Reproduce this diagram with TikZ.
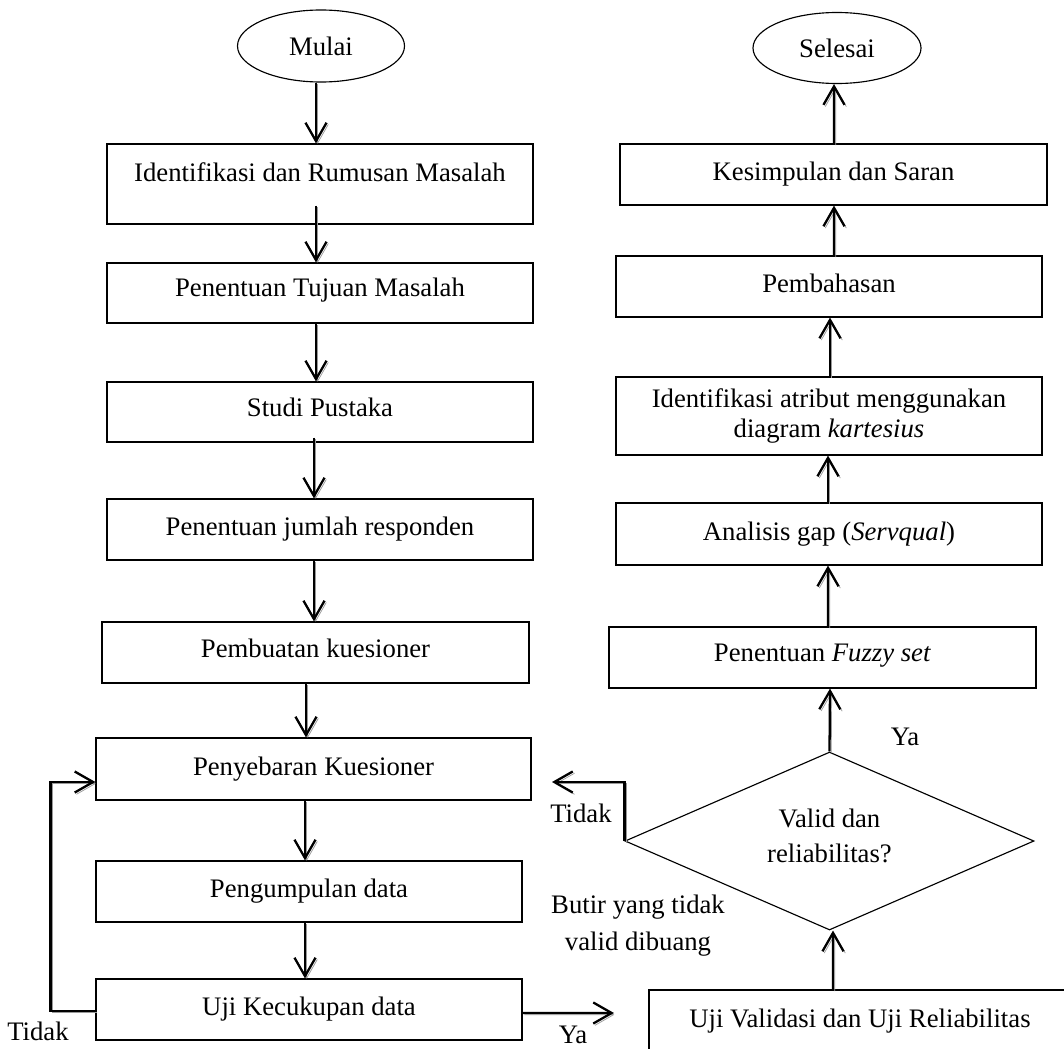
\documentclass[tikz,border=0pt]{standalone}
\usepackage{fontspec}
\setmainfont{Liberation Serif}
\usetikzlibrary{shapes.geometric,arrows.meta,calc}
\newcommand{\liftt}[2]{\raisebox{#1}[\height][\depth]{#2}}
\begin{document}
\begin{tikzpicture}[x=0.02cm,y=-0.02cm,
  every node/.style={font=\fontsize{15.2}{17}\selectfont},
  box/.style={draw, line width=0.65pt, rectangle, inner sep=0pt},
  oval/.style={draw, ellipse, line width=0.65pt, inner sep=0pt},
  sz/.style 2 args={minimum width=#1*0.02cm, minimum height=#2*0.02cm},
  arr/.style={line width=1.3pt, -{Straight Barb[length=10.5pt,width=12pt,line width=1.3pt]},
    preaction={draw=black!40, transform canvas={shift={(1pt,-1pt)}}}},
  lbl/.style={inner sep=0pt}]
\useasboundingbox (0,0) rectangle (1064,1048);
\fill[white] (0,0) rectangle (1064,1048);
\clip (0,0) rectangle (1064,1048);

% left column
\node[oval, sz={167}{72}] (mulai) at (321,46) {Mulai};
\node[box, sz={426}{80}] (idr) at (320,184) {\liftt{6.8pt}{Identifikasi dan Rumusan Masalah}};
\node[box, sz={426}{60}] (ptm) at (320,293) {\liftt{1.6pt}{Penentuan Tujuan Masalah}};
\node[box, sz={426}{60}] (sp) at (320,412) {\liftt{2.8pt}{Studi Pustaka}};
\node[box, sz={426}{61}] (pjr) at (320,529.5) {Penentuan jumlah responden};
\node[box, sz={427}{61}] (pk) at (315.5,652.5) {\liftt{2.5pt}{Pembuatan kuesioner}};
\node[box, sz={435}{62}] (pyk) at (313.5,769) {Penyebaran Kuesioner};
\node[box, sz={426}{61}] (pd) at (309,891.5) {\liftt{0.5pt}{Pengumpulan data}};
\node[box, sz={426}{61}] (ukd) at (309,1009.5) {Uji Kecukupan data};

% right column
\node[oval, sz={168}{71}] (sel) at (837,48) {Selesai};
\node[box, sz={427}{61}] (ks) at (833.5,174.5) {Kesimpulan dan Saran};
\node[box, sz={426}{61}] (pb) at (829,286.5) {\liftt{2pt}{Pembahasan}};
\node[box, sz={426}{78}, align=center] (ia) at (829,416) {Identifikasi atribut menggunakan\\diagram \textit{kartesius}};
\node[box, sz={426}{62}] (ag) at (829,534) {Analisis gap (\textit{Servqual})};
\node[box, sz={427}{61}] (fz) at (822.5,657.5) {\liftt{1pt}{Penentuan \textit{Fuzzy set}}};
\node[draw, diamond, line width=0.65pt, inner sep=0pt, sz={409}{178}, shape aspect=2.3,
      align=center, text depth=6pt] (dm) at (829.5,841) {Valid dan\\[2.8pt]reliabilitas?};
\node[box, sz={422}{80}] (uv) at (860,1030) {\liftt{5.3pt}{Uji Validasi dan Uji Reliabilitas}};

% labels
\node[lbl] (tidak1) at (38,1031) {Tidak};
\node[lbl] (ya1) at (573,1035) {Ya};
\node[lbl] (tidak2) at (581,813) {Tidak};
\node[lbl] (ya2) at (905,737) {Ya};
\node[lbl, align=center] (butir) at (638,926) {Butir yang tidak\\[4pt]valid dibuang};

% left arrows
\draw[arr] ($(mulai.south)+(-5,0)$) -- ($(idr.north)+(-4,0)$);
\draw[arr] ($(idr.south)+(-4,-19)$) -- ($(ptm.north)+(-4,0)$);
\draw[arr] ($(ptm.south)+(-4,0)$) -- ($(sp.north)+(-4,0)$);
\draw[arr] ($(sp.south)+(-6,-5)$) -- ($(pjr.north)+(-6,0)$);
\draw[arr] ($(pjr.south)+(-6,0)$) -- ($(pk.north)+(-1.5,0)$);
\draw[arr] ($(pk.south)+(-9.5,0)$) -- ($(pyk.north)+(-7.5,0)$);
\draw[arr] ($(pyk.south)+(-8.5,0)$) -- ($(pd.north)+(-4,0)$);
\draw[arr] ($(pd.south)+(-4,0)$) -- ($(ukd.north)+(-4,0)$);

% right arrows
\draw[arr] ($(fz.north)+(5.5,0)$) -- ($(ag.south)+(-1,0)$);
\draw[arr] ($(ag.north)+(-1,0)$) -- ($(ia.south)+(-1,0)$);
\draw[arr] ($(ia.north)+(1,0)$) -- ($(pb.south)+(1,0)$);
\draw[arr] ($(pb.north)+(5,0)$) -- ($(ks.south)+(0.5,0)$);
\draw[arr] ($(ks.north)+(0.5,0)$) -- ($(sel.south)+(-3,0)$);
\draw[arr] (dm.north) -- ($(fz.south)+(7.5,0)$);
\draw[arr] ($(uv.north)+(-27,0)$) -- ($(dm.south)+(3.5,0)$);

% loops
\coordinate (t2end) at (552,782);
\draw[arr] (dm.west) -- ++(0,-59) -- (t2end);
\draw[arr] ($(ukd.west)+(0,1.5)$) -- ++(-45,0) |- ($(pyk.west)+(0,13)$);
\coordinate (yaend) at (614,1013);
\draw[arr] ($(ukd.east)+(0,3.5)$) -- (yaend);
\end{tikzpicture}
\end{document}
